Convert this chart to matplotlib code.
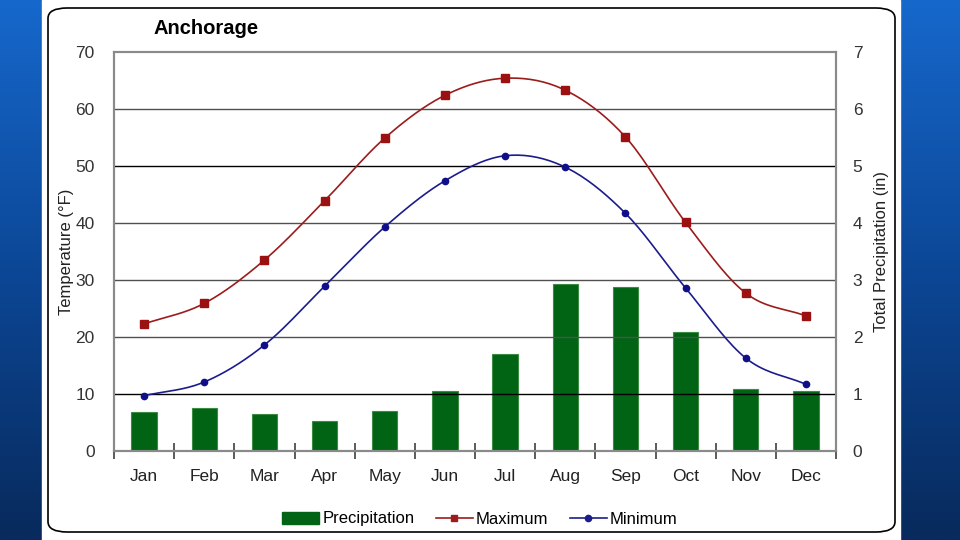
import numpy as np
import matplotlib.pyplot as plt
from matplotlib.patches import FancyBboxPatch, Rectangle
from matplotlib.lines import Line2D

plt.rcParams['font.family'] = ['Liberation Sans', 'DejaVu Sans']

months = ['Jan', 'Feb', 'Mar', 'Apr', 'May', 'Jun', 'Jul', 'Aug', 'Sep', 'Oct', 'Nov', 'Dec']
temp_max = [22.3, 25.9, 33.5, 43.9, 54.9, 62.4, 65.4, 63.3, 55.1, 40.1, 27.7, 23.7]
temp_min = [9.7, 12.1, 18.6, 28.9, 39.3, 47.4, 51.8, 49.8, 41.7, 28.6, 16.3, 11.7]
precip = [0.68, 0.75, 0.65, 0.53, 0.70, 1.05, 1.70, 2.93, 2.88, 2.09, 1.09, 1.05]


def smooth(x, y, n=20):
    # catmull-rom style smoothing like the excel "smoothed line"
    x = np.asarray(x, float)
    y = np.asarray(y, float)
    px = np.concatenate([[2 * x[0] - x[1]], x, [2 * x[-1] - x[-2]]])
    py = np.concatenate([[2 * y[0] - y[1]], y, [2 * y[-1] - y[-2]]])
    xs, ys = [], []
    t = np.linspace(0, 1, n)
    for i in range(1, len(px) - 2):
        for arr, out in ((px, xs), (py, ys)):
            p0, p1, p2, p3 = arr[i - 1], arr[i], arr[i + 1], arr[i + 2]
            out.extend(0.5 * ((2 * p1) + (-p0 + p2) * t
                              + (2 * p0 - 5 * p1 + 4 * p2 - p3) * t ** 2
                              + (-p0 + 3 * p1 - 3 * p2 + p3) * t ** 3))
    return np.array(xs), np.array(ys)


fig = plt.figure(figsize=(9.6, 5.4), dpi=100)

# blue slide background
bg = fig.add_axes([0, 0, 1, 1], zorder=-10)
grad = np.linspace(0, 1, 256).reshape(-1, 1)
bg.imshow(grad, aspect='auto', cmap=plt.matplotlib.colors.LinearSegmentedColormap.from_list(
    'slide', ['#1668cc', '#0c4796', '#082a5c']), extent=[0, 1, 0, 1])
bg.add_patch(Rectangle((42 / 960, 0), 858 / 960, 1, color='white', zorder=2))
bg.add_patch(FancyBboxPatch((48 / 960, 8 / 540), 847 / 960, 524 / 540,
                            boxstyle='round,pad=0,rounding_size=0.02',
                            fc='white', ec='black', lw=1.2, zorder=3,
                            mutation_aspect=540 / 960 * 1.7))
bg.set_xlim(0, 1)
bg.set_ylim(0, 1)
bg.axis('off')

ax = fig.add_axes([114 / 960, 89 / 540, 722 / 960, 399 / 540])
ax2 = ax.twinx()
x = np.arange(len(months))

ax2.bar(x, precip, width=0.42, color='#006414', edgecolor='#3d8a45', linewidth=0.8, zorder=2)
ax2.set_ylim(0, 7)
ax2.set_yticks(range(0, 8))

ax.set_zorder(ax2.get_zorder() + 1)
ax.patch.set_visible(False)

for v in range(10, 70, 10):
    ax.axhline(v, color='black' if v in (10, 50) else '#505050', lw=1.0, zorder=1)

sx, sy = smooth(x, temp_max)
ax.plot(sx, sy, color='#9b1c1c', lw=1.2, zorder=3)
ax.plot(x, temp_max, 's', color='#9b1010', ms=5.5, zorder=4)
sx, sy = smooth(x, temp_min)
ax.plot(sx, sy, color='#1c1c8c', lw=1.2, zorder=3)
ax.plot(x, temp_min, 'o', color='#0f0f8a', ms=4.5, zorder=4)

ax.set_xlim(-0.5, 11.5)
ax.set_ylim(0, 70)
ax.set_yticks(range(0, 80, 10))
ax.set_xticks(x)
ax.set_xticklabels(months)
ax.set_xticks(np.arange(-0.5, 12, 1), minor=True)
ax.tick_params(axis='x', which='major', length=0, pad=13, labelsize=12.5, labelcolor='#222222')
ax.tick_params(axis='x', which='minor', length=11, direction='inout', color='#404040', width=1.2)
ax.tick_params(axis='y', length=0, pad=14, labelsize=12.5, labelcolor='#333333')
ax2.tick_params(axis='y', length=0, pad=12, labelsize=12.5, labelcolor='#333333')

for a in (ax, ax2):
    for s in a.spines.values():
        s.set_color('#8a8a8a')
        s.set_linewidth(1.5)

ax.set_ylabel('Temperature (°F)', fontsize=12, labelpad=1, color='#222222')
ax2.set_ylabel('Total Precipitation (in)', fontsize=12, labelpad=8, color='#222222')

fig.text(153 / 960, 1 - 28 / 540, 'Anchorage', fontsize=14.5, fontweight='bold',
         ha='left', va='center')

handles = [Rectangle((0, 0), 1, 1, color='#006414'),
           Line2D([], [], color='#9b1c1c', marker='s', ms=5, lw=1.2),
           Line2D([], [], color='#1c1c8c', marker='o', ms=4.5, lw=1.2)]
fig.legend(handles, ['Precipitation', 'Maximum', 'Minimum'], loc='center',
           bbox_to_anchor=(480 / 960, 1 - 519 / 540), ncol=3, frameon=False,
           fontsize=12, handlelength=2.2, handletextpad=0.2, columnspacing=1.3)

fig.savefig('out.png', dpi=100)
